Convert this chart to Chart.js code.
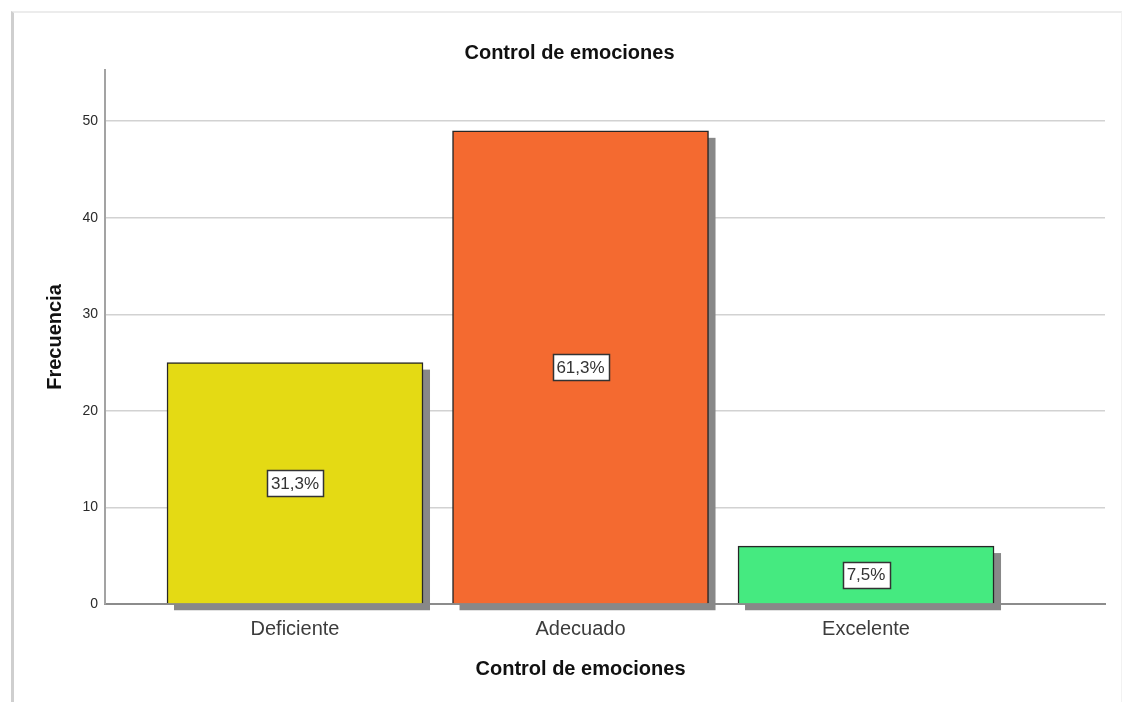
<!DOCTYPE html>
<html lang="es">
<head>
    <meta charset="utf-8">
    <title>Control de emociones</title>
    <script src="https://cdn.jsdelivr.net/npm/chart.js@4.4.1/dist/chart.umd.min.js"></script>
    <style>
        html, body { margin: 0; padding: 0; background: #fff; overflow: hidden; }
        #wrap { position: relative; width: 1122px; height: 702px; }
        #gr { position: absolute; left: 0; top: 0; }
        /* marco del visor */
        #frame {
            position: absolute; left: 11px; top: 11px; width: 1107px; height: 720px;
            border-left: 3px solid #cfcfcf; border-top: 2px solid #ececec; border-right: 1px solid #f2f2f2;
            pointer-events: none;
        }
    </style>
</head>
<body>
<div id="wrap">
    <canvas id="gr" width="1122" height="702"></canvas>
    <div id="frame"></div>
</div>
<script>
    // datos
    const categorias = ["Deficiente", "Adecuado", "Excelente"];
    const frecuencias = [25, 49, 6];
    const porcentajes = ["31,3%", "61,3%", "7,5%"];
    const colores = ["#e4da14", "#f46a30", "#45ea80"];
    const ticksY = [0, 10, 20, 30, 40, 50];

    const FUENTE = "'Liberation Sans', Arial, sans-serif";

    // sombra gris detrás de cada barra
    const sombra = {
        id: "sombra",
        beforeDatasetsDraw(chart) {
            const ctx = chart.ctx;
            ctx.save();
            ctx.fillStyle = "#888";
            chart.getDatasetMeta(0).data.forEach((bar) => {
                const w = bar.width;
                ctx.fillRect(bar.x - w / 2 + 7, bar.y + 7, w, bar.base - bar.y);
            });
            ctx.restore();
        }
    };

    // etiqueta de porcentaje en el centro de la barra
    const etiquetas = {
        id: "etiquetas",
        afterDatasetsDraw(chart) {
            const ctx = chart.ctx;
            ctx.save();
            ctx.font = "17px " + FUENTE;
            ctx.textAlign = "center";
            ctx.textBaseline = "middle";
            chart.getDatasetMeta(0).data.forEach((bar, i) => {
                const t = porcentajes[i];
                const cy = (bar.y + bar.base) / 2;
                const w = Math.round(ctx.measureText(t).width + 8);
                const h = 26;
                const x0 = Math.round(bar.x - w / 2) + 0.5;
                const y0 = Math.round(cy - h / 2) + 0.5;
                ctx.fillStyle = "#fff";
                ctx.fillRect(x0, y0, w, h);
                ctx.strokeStyle = "#333";
                ctx.lineWidth = 1.5;
                ctx.strokeRect(x0, y0, w, h);
                ctx.fillStyle = "#333";
                ctx.fillText(t, bar.x, cy + 1);
            });
            ctx.restore();
        }
    };

    // título del eje X centrado sobre las categorías
    const tituloX = {
        id: "tituloX",
        afterDraw(chart) {
            const x = chart.scales.x;
            const ctx = chart.ctx;
            ctx.save();
            ctx.font = "bold 20px " + FUENTE;
            ctx.fillStyle = "#111";
            ctx.textAlign = "center";
            ctx.textBaseline = "middle";
            const cx = (x.getPixelForValue(1) + x.getPixelForValue(categorias.length)) / 2;
            ctx.fillText("Control de emociones", cx, chart.chartArea.bottom + 65);
            ctx.restore();
        }
    };

    const datos = categorias.map((c, i) => ({ x: i + 1, y: frecuencias[i] }));

    new Chart(document.getElementById("gr").getContext("2d"), {
        type: "bar",
        data: {
            datasets: [{
                data: datos,
                backgroundColor: colores,
                borderColor: "#262626",
                borderWidth: 1.5,
                barThickness: 256
            }]
        },
        options: {
            responsive: false,
            animation: false,
            layout: { padding: { left: 34, right: 17, top: 0, bottom: 0 } },
            plugins: {
                legend: { display: false },
                tooltip: { enabled: false },
                title: {
                    display: true,
                    text: "Control de emociones",
                    color: "#111",
                    font: { family: FUENTE, size: 20, weight: "bold" },
                    padding: { top: 41, bottom: 5 }
                }
            },
            scales: {
                x: {
                    type: "linear",
                    min: 0.3345,
                    max: 3.837,
                    offset: false,
                    grid: { display: false, offset: false },
                    border: { display: true, color: "#8c8c8c", width: 2 },
                    afterBuildTicks: (s) => { s.ticks = categorias.map((c, i) => ({ value: i + 1 })); },
                    afterFit: (s) => { s.height = 98; },
                    ticks: {
                        padding: 5,
                        color: "#3c3c3c",
                        font: { family: FUENTE, size: 20 },
                        callback: (v) => categorias[v - 1] || ""
                    }
                },
                y: {
                    min: 0,
                    max: 55.3,
                    grid: { color: "#d2d2d2", lineWidth: 1.5, drawTicks: false },
                    border: { display: true, color: "#a3a3a3", width: 2 },
                    afterBuildTicks: (s) => { s.ticks = ticksY.map((v) => ({ value: v })); },
                    afterFit: (s) => { s.width = 105 - 34; },
                    ticks: {
                        padding: 7,
                        color: "#2a2a2a",
                        font: { family: FUENTE, size: 14 }
                    },
                    title: {
                        display: true,
                        text: "Frecuencia",
                        color: "#111",
                        font: { family: FUENTE, size: 20, weight: "bold" },
                        padding: { top: 9, bottom: 0 }
                    }
                }
            }
        },
        plugins: [sombra, etiquetas, tituloX]
    });
</script>
</body>
</html>
